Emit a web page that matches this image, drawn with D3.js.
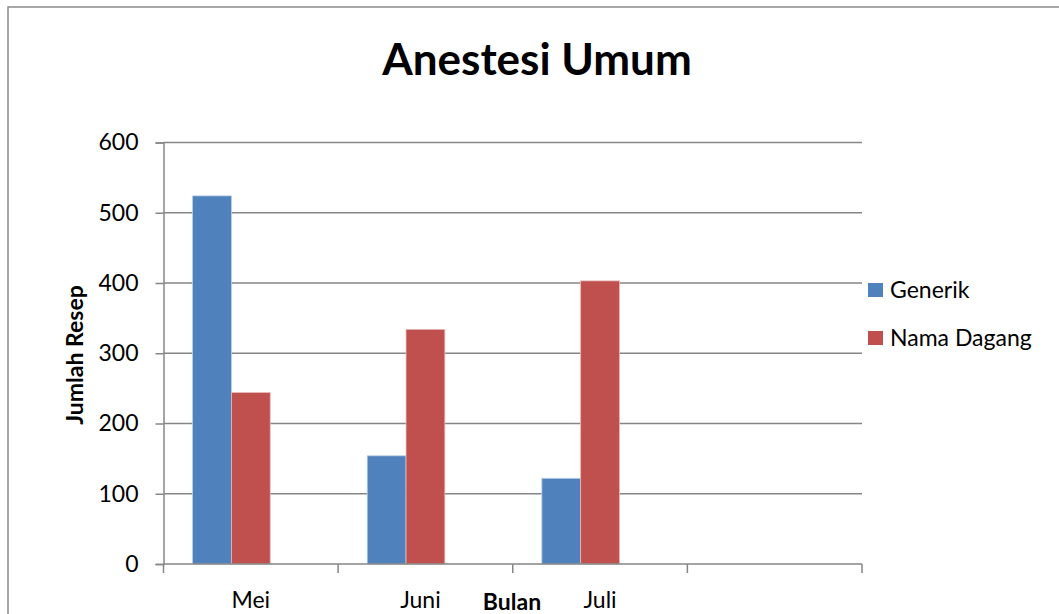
<!DOCTYPE html>
<html>
<head>
<meta charset="utf-8">
<script src="https://cdn.jsdelivr.net/npm/d3@7"></script>
<style>
  body { margin: 0; background: #fff; }
  svg { display: block; font-family: Lato, "Open Sans", sans-serif; }
</style>
</head>
<body>
<svg id="chart" width="1059" height="614"></svg>
<script>
// Chart data
const categories = ["Mei", "Juni", "Juli", ""];
const seriesNames = ["Generik", "Nama Dagang"];
const generik = [524, 154, 122, null];
const namaDagang = [244, 334, 403, null];
const yTicks = [0, 100, 200, 300, 400, 500, 600];
const seriesColors = ["#4F81BD", "#C0504D"];

const svg = d3.select("#chart");

// Outer chart border
svg.append("rect")
    .attr("x", 8).attr("y", 7)
    .attr("width", 1080).attr("height", 640)
    .attr("fill", "none")
    .attr("stroke", "#8c8c8c")
    .attr("stroke-width", 1.5);

// Plot area
const plot = { left: 163.5, right: 862, top: 142.5, bottom: 564 };

const xScale = d3.scaleBand()
    .domain(categories.map((c, i) => i))
    .range([plot.left, plot.right])
    .padding(0);

// third (empty) slot keeps the Excel-style spacing
const xSub = d3.scaleBand()
    .domain([0, 1, 2])
    .range([0, xScale.bandwidth()])
    .paddingInner(0)
    .paddingOuter(0.75);

const yScale = d3.scaleLinear()
    .domain([0, 600])
    .range([plot.bottom, plot.top]);

// Gridlines
svg.append("g")
    .selectAll("line")
    .data(yTicks.filter(d => d > 0))
    .enter()
    .append("line")
    .attr("x1", plot.left).attr("x2", plot.right)
    .attr("y1", d => yScale(d)).attr("y2", d => yScale(d))
    .attr("stroke", "#868686")
    .attr("stroke-width", 1.5);

// Y axis
const yAxis = svg.append("g")
    .attr("transform", "translate(" + plot.left + ",0)")
    .call(d3.axisLeft(yScale).tickValues(yTicks).tickSize(8).tickPadding(17));
yAxis.select(".domain").attr("stroke", "#868686").attr("stroke-width", 1.5);
yAxis.selectAll(".tick line").attr("stroke", "#868686").attr("stroke-width", 1.5);
yAxis.selectAll(".tick text")
    .attr("font-size", 23)
    .attr("fill", "#000")
    .attr("font-family", "Lato, sans-serif");

// Bars
const seriesData = [generik, namaDagang];
seriesData.forEach((values, s) => {
    svg.append("g")
        .selectAll("rect")
        .data(values.map((v, i) => ({ i, v })).filter(d => d.v != null))
        .enter()
        .append("rect")
        .attr("x", d => xScale(d.i) + xSub(s))
        .attr("y", d => yScale(d.v))
        .attr("width", xSub.bandwidth())
        .attr("height", d => yScale(0) - yScale(d.v))
        .attr("fill", seriesColors[s])
        .attr("stroke", s === 0 ? "#b9cde5" : "#e6b9b8")
        .attr("stroke-width", 0.8);
});

// X axis
const xAxisG = svg.append("g").attr("transform", "translate(0," + plot.bottom + ")");
xAxisG.append("line")
    .attr("x1", plot.left).attr("x2", plot.right)
    .attr("stroke", "#868686").attr("stroke-width", 1.5);
const bounds = categories.map((c, i) => xScale(i)).concat([plot.right]);
xAxisG.selectAll(".xtick")
    .data(bounds)
    .enter()
    .append("line")
    .attr("x1", d => d).attr("x2", d => d)
    .attr("y1", 0).attr("y2", 9)
    .attr("stroke", "#868686").attr("stroke-width", 1.5);
const labelOffsets = [0, -5, 0, 0];
xAxisG.selectAll(".xlabel")
    .data(categories)
    .enter()
    .append("text")
    .attr("x", (d, i) => xScale(i) + xScale.bandwidth() / 2 + labelOffsets[i])
    .attr("y", 44)
    .attr("text-anchor", "middle")
    .attr("font-size", 23)
    .text(d => d);

// Title
svg.append("text")
    .attr("x", 537).attr("y", 75)
    .attr("text-anchor", "middle")
    .attr("font-size", 44)
    .attr("font-weight", "bold")
    .text("Anestesi Umum");

// Axis titles
svg.append("text")
    .attr("x", 512).attr("y", 610)
    .attr("text-anchor", "middle")
    .attr("font-size", 23)
    .attr("font-weight", "bold")
    .text("Bulan");

svg.append("text")
    .attr("transform", "translate(83,355) rotate(-90)")
    .attr("text-anchor", "middle")
    .attr("font-size", 23)
    .attr("font-weight", "bold")
    .text("Jumlah Resep");

// Legend
const legend = svg.append("g").attr("transform", "translate(868,283)");
seriesNames.forEach((name, i) => {
    const row = legend.append("g").attr("transform", "translate(0," + (i * 48) + ")");
    row.append("rect")
        .attr("width", 15).attr("height", 14)
        .attr("fill", seriesColors[i]);
    row.append("text")
        .attr("x", 22).attr("y", 15)
        .attr("font-size", 23)
        .text(name);
});
</script>
</body>
</html>
